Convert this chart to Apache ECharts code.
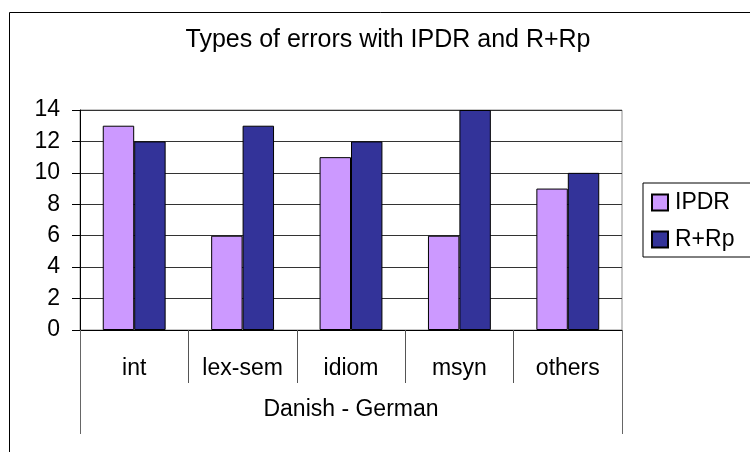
<!DOCTYPE html>
<html>
<head>
<meta charset="utf-8">
<script src="https://cdn.jsdelivr.net/npm/echarts@6/dist/echarts.min.js"></script>
<style>
  html, body { margin: 0; padding: 0; background: #fff; }
  #chart { width: 750px; height: 452px; }
</style>
</head>
<body>
<div id="chart"></div>
<script>
'use strict';
// data
var titleText = 'Types of errors with IPDR and R+Rp';
var categories = ['int', 'lex-sem', 'idiom', 'msyn', 'others'];
var groupLabel = ['Danish - German'];
var seriesNames = ['IPDR', 'R+Rp'];
var ipdrValues = [13, 6, 11, 6, 9];
var rrpValues = [12, 13, 12, 14, 10];
var colors = ['#CC99FF', '#333399'];

var font = 'Liberation Sans, Arial, sans-serif';
var chart = echarts.init(document.getElementById('chart'), null, { renderer: 'canvas' });

var option = {
  animation: false,
  backgroundColor: '#fff',
  color: colors,
  title: {
    text: titleText,
    left: 383,
    top: 23,
    textAlign: 'center',
    textStyle: { fontFamily: font, fontSize: 25, fontWeight: 'normal', color: '#000' }
  },
  legend: {
    orient: 'vertical',
    left: 643,
    top: 183,
    data: seriesNames,
    icon: 'rect',
    itemWidth: 16,
    itemHeight: 16,
    itemGap: 14,
    padding: [8, 60, 6, 8],
    borderColor: '#000',
    borderWidth: 1,
    textStyle: { fontFamily: font, fontSize: 23, color: '#000', padding: [0, 0, 0, 2] }
  },
  grid: {
    left: 80, right: 128, top: 110, bottom: 122,
    show: true, borderColor: '#909090', borderWidth: 1
  },
  xAxis: [{
    type: 'category',
    data: categories,
    position: 'bottom',
    axisLine: { lineStyle: { color: '#000', width: 1 } },
    axisTick: { show: true, length: 53, interval: 0, lineStyle: { color: '#555' } },
    axisLabel: { fontFamily: font, fontSize: 23, color: '#000', margin: 27, interval: 0 }
  }, {
    type: 'category',
    data: groupLabel,
    position: 'bottom',
    axisLine: { show: false },
    axisTick: { show: true, length: 104, lineStyle: { color: '#666' } },
    axisLabel: { fontFamily: font, fontSize: 23, color: '#000', margin: 68 }
  }],
  yAxis: {
    type: 'value',
    min: 0, max: 14, interval: 2,
    axisLine: { show: true, lineStyle: { color: '#000', width: 1 } },
    axisTick: { show: true, length: 8, lineStyle: { color: '#000' } },
    axisLabel: { fontFamily: font, fontSize: 23, color: '#000', margin: 20 },
    splitLine: { show: true, lineStyle: { color: '#333', width: 1 } }
  },
  graphic: [{
    type: 'rect',
    shape: { x: 9.5, y: 12.5, width: 800, height: 500 },
    style: { fill: 'none', stroke: '#000', lineWidth: 1 },
    silent: true, z: -1
  }],
  series: [{
    name: seriesNames[0],
    type: 'bar',
    data: ipdrValues,
    barGap: '0%',
    barCategoryGap: '42%',
    itemStyle: { color: colors[0], borderColor: '#000', borderWidth: 1 }
  }, {
    name: seriesNames[1],
    type: 'bar',
    data: rrpValues,
    barGap: '0%',
    barCategoryGap: '42%',
    itemStyle: { color: colors[1], borderColor: '#000', borderWidth: 1 }
  }]
};

chart.setOption(option);
</script>
</body>
</html>
